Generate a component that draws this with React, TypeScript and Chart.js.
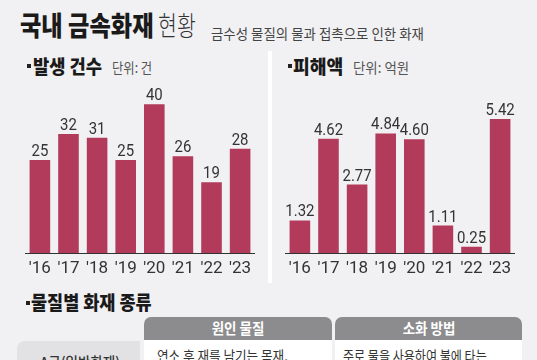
import React, { useEffect, useRef } from "react";
import { Chart, registerables } from "chart.js";

Chart.register(...registerables);

const years = ["'16", "'17", "'18", "'19", "'20", "'21", "'22", "'23"];
const fireCounts = [25, 32, 31, 25, 40, 26, 19, 28];
const damageAmounts = [1.32, 4.62, 2.77, 4.84, 4.6, 1.11, 0.25, 5.42];

const BAR_COLOR = "#b23b5b";
const BG = "#f1f1f3";
const KFONT = "'Noto Sans CJK KR', 'Noto Sans', sans-serif";

function makeLabelPlugin(format: (v: number) => string) {
  return {
    id: "valueLabels",
    afterDatasetsDraw(chart: any) {
      const ctx = chart.ctx;
      const meta = chart.getDatasetMeta(0);
      const data = chart.data.datasets[0].data as number[];
      meta.data.forEach((bar: any, i: number) => {
        ctx.save();
        ctx.translate(bar.x, bar.y - 4);
        ctx.scale(0.88, 1);
        ctx.font = "17px Roboto";
        ctx.fillStyle = "#333";
        ctx.textAlign = "center";
        ctx.textBaseline = "alphabetic";
        ctx.fillText(format(data[i]), 0, 0);
        ctx.restore();
      });
    },
  };
}

function BarChart(props: {
  values: number[];
  max: number;
  format: (v: number) => string;
  left: number;
  width: number;
}) {
  const ref = useRef<HTMLCanvasElement>(null);
  useEffect(() => {
    if (!ref.current) return;
    const chart = new Chart(ref.current, {
      type: "bar",
      data: {
        labels: years,
        datasets: [
          {
            data: props.values,
            backgroundColor: BAR_COLOR,
            barPercentage: 0.72,
            categoryPercentage: 1,
          },
        ],
      },
      options: {
        responsive: false,
        animation: false,
        layout: { padding: 0 },
        plugins: { legend: { display: false }, tooltip: { enabled: false } },
        scales: {
          y: { display: false, min: 0, max: props.max },
          x: {
            grid: { display: false, drawTicks: false },
            border: { display: true, color: "#333", width: 1 },
            ticks: {
              color: "#333",
              font: { family: "Roboto", size: 17 },
              padding: 6,
            },
            afterFit: (scale: any) => {
              scale.height = 32;
            },
          },
        },
      },
      plugins: [makeLabelPlugin(props.format)],
    });
    return () => chart.destroy();
  }, []);
  return (
    <canvas
      ref={ref}
      width={props.width}
      height={205}
      style={{ position: "absolute", left: props.left, top: 80, width: props.width, height: 205 }}
    />
  );
}

function Txt(props: {
  x: number;
  cy: number;
  size: number;
  weight?: number;
  color?: string;
  sx?: number;
  children: React.ReactNode;
  center?: boolean;
}) {
  const sx = props.sx ?? 0.84;
  return (
    <div
      style={{
        position: "absolute",
        left: props.x,
        top: props.cy - 0.56 * props.size,
        fontFamily: KFONT,
        fontSize: props.size,
        fontWeight: props.weight ?? 400,
        color: props.color ?? "#222",
        lineHeight: 1,
        whiteSpace: "nowrap",
        transform: props.center ? `translateX(-50%) scaleX(${sx})` : `scaleX(${sx})`,
        transformOrigin: props.center ? "50% 50%" : "0 50%",
      }}
    >
      {props.children}
    </div>
  );
}

export default function App() {
  useEffect(() => {
    document.body.style.margin = "0";
  }, []);
  return (
    <div
      style={{
        position: "fixed",
        left: 0,
        top: 0,
        width: 537,
        height: 360,
        background: BG,
        overflow: "hidden",
      }}
    >
      <Txt x={20} cy={25.7} size={27} weight={900} sx={0.86} color="#1a1a1a">
        국내 금속화재
      </Txt>
      <Txt x={157.5} cy={25.7} size={27} weight={300} sx={0.76} color="#333">
        현황
      </Txt>
      <Txt x={210.5} cy={33.4} size={14} weight={400} sx={0.96} color="#444">
        금수성 물질의 물과 접촉으로 인한 화재
      </Txt>

      <div style={{ position: "absolute", left: 268, top: 51, width: 4, height: 232, background: "#fff" }} />

      <div style={{ position: "absolute", left: 27, top: 64, width: 4, height: 4, background: "#222" }} />
      <Txt x={33} cy={67} size={19} weight={900} sx={0.93} color="#1a1a1a">
        발생 건수
      </Txt>
      <Txt x={112} cy={68} size={14} sx={0.88} color="#555">
        단위: 건
      </Txt>

      <div style={{ position: "absolute", left: 288, top: 64, width: 4, height: 4, background: "#222" }} />
      <Txt x={293} cy={67} size={19} weight={900} sx={0.96} color="#1a1a1a">
        피해액
      </Txt>
      <Txt x={353} cy={68} size={14} sx={0.96} color="#555">
        단위: 억원
      </Txt>

      <BarChart values={fireCounts} max={46.5} format={(v) => String(v)} left={23} width={234} />
      <BarChart values={damageAmounts} max={7.0} format={(v) => v.toFixed(2)} left={283} width={234} />

      <div style={{ position: "absolute", left: 26, top: 301, width: 4, height: 4, background: "#222" }} />
      <Txt x={31} cy={303} size={19} weight={900} sx={0.92} color="#1a1a1a">
        물질별 화재 종류
      </Txt>

      <div
        style={{
          position: "absolute",
          left: 144,
          top: 317,
          width: 187.5,
          height: 23,
          background: "#8c8c8e",
          borderRadius: "7px 7px 0 0",
        }}
      />
      <div
        style={{
          position: "absolute",
          left: 335,
          top: 317,
          width: 187,
          height: 23,
          background: "#8c8c8e",
          borderRadius: "7px 7px 0 0",
        }}
      />
      <Txt x={237.7} cy={328.5} size={15} weight={700} color="#fff" center sx={0.9}>
        원인 물질
      </Txt>
      <Txt x={428.5} cy={328.5} size={15} weight={700} color="#fff" center sx={0.9}>
        소화 방법
      </Txt>

      <div
        style={{
          position: "absolute",
          left: 17,
          top: 341,
          width: 123,
          height: 40,
          background: "#e2e2e4",
          borderRadius: "8px 0 0 0",
        }}
      />
      <div style={{ position: "absolute", left: 144, top: 340, width: 187.5, height: 40, background: "#fff" }} />
      <div style={{ position: "absolute", left: 335, top: 340, width: 187, height: 40, background: "#fff" }} />

      <Txt x={80} cy={362.5} size={15} weight={500} color="#333" center sx={0.9}>
        A급(일반화재)
      </Txt>
      <Txt x={157} cy={355.5} size={14} color="#333" sx={0.9}>
        연소 후 재를 남기는 목재,
      </Txt>
      <Txt x={343} cy={355.5} size={14} color="#333" sx={0.86}>
        주로 물을 사용하여 불에 타는
      </Txt>
    </div>
  );
}
